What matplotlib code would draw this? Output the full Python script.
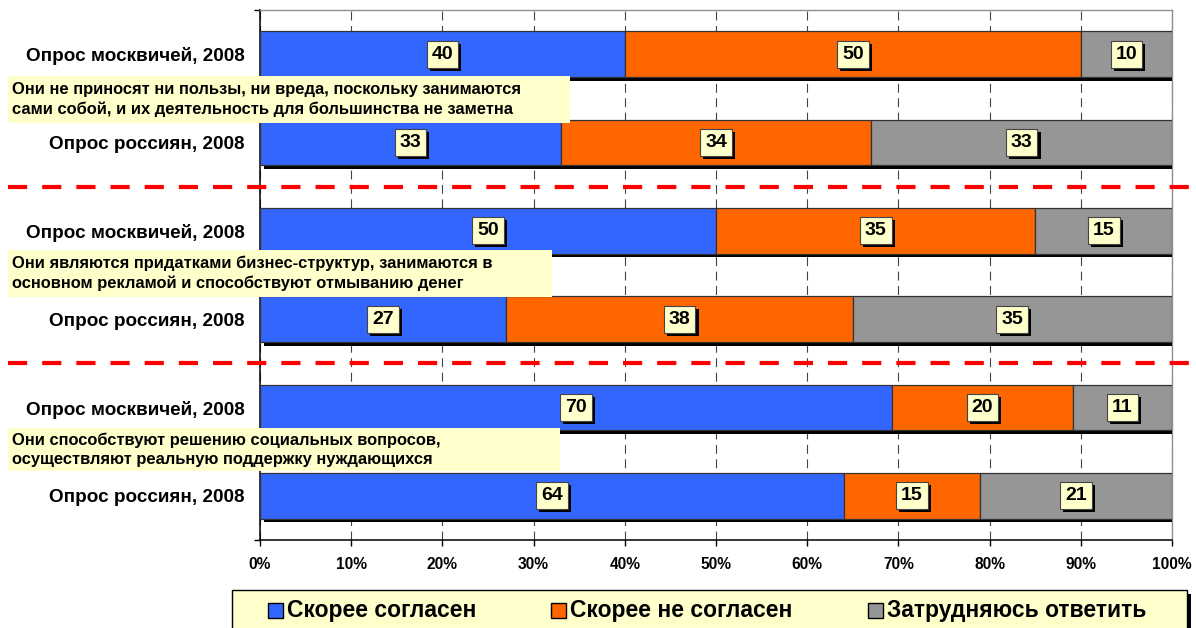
import matplotlib
matplotlib.use('Agg')
import matplotlib.pyplot as plt
import matplotlib.patheffects as pe
from matplotlib.patches import Rectangle
import numpy as np

plt.rcParams['font.family'] = ['Liberation Sans', 'DejaVu Sans']
plt.rcParams['font.weight'] = 'bold'

# ---------------- data ----------------
categories = ['Опрос москвичей, 2008', 'Опрос россиян, 2008',
              'Опрос москвичей, 2008', 'Опрос россиян, 2008',
              'Опрос москвичей, 2008', 'Опрос россиян, 2008']
series_names = ['Скорее согласен', 'Скорее не согласен', 'Затрудняюсь ответить']
agree = [40, 33, 50, 27, 70, 64]
disagree = [50, 34, 35, 38, 20, 15]
unsure = [10, 33, 15, 35, 11, 21]
statements = [
    'Они не приносят ни пользы, ни вреда, поскольку занимаются\nсами собой, и их деятельность для большинства не заметна',
    'Они являются придатками бизнес-структур, занимаются в\nосновном рекламой и способствуют отмыванию денег',
    'Они способствуют решению социальных вопросов,\nосуществляют реальную поддержку нуждающихся',
]
xticks = [0, 10, 20, 30, 40, 50, 60, 70, 80, 90, 100]
xtick_labels = [f'{v}%' for v in xticks]

# ---------------- style ----------------
colors = ['#3366FF', '#FF6600', '#969696']
note_bg = '#FFFFCC'
W, H = 1196, 628

fig = plt.figure(figsize=(W / 100, H / 100), dpi=100)
fig.patch.set_facecolor('white')
ax = fig.add_axes([260 / W, 1 - 540 / H, 912 / W, 530 / H])

vals = np.array([agree, disagree, unsure], dtype=float)
pct = vals / vals.sum(axis=0) * 100
ypos = np.arange(len(categories))
left = np.zeros(len(categories))

bar_shadow = [pe.SimplePatchShadow(offset=(2.6, -2.6), shadow_rgbFace='black', alpha=1.0), pe.Normal()]
lbl_shadow = [pe.SimplePatchShadow(offset=(2.2, -2.2), shadow_rgbFace='black', alpha=1.0), pe.Normal()]

for i in range(3):
    bars = ax.barh(ypos, pct[i], left=left, height=0.52, color=colors[i],
                   edgecolor='#333333', linewidth=0.9, zorder=3)
    for b in bars:
        b.set_path_effects(bar_shadow)
    for j in range(len(ypos)):
        t = ax.text(left[j] + pct[i][j] / 2, ypos[j], str(int(vals[i][j])),
                    ha='center', va='center', fontsize=14, fontweight='bold',
                    color='black', zorder=6,
                    bbox=dict(boxstyle='square,pad=0.26', fc=note_bg, ec='#444444', lw=0.8))
        t.get_bbox_patch().set_path_effects(lbl_shadow)
    left += pct[i]

ax.set_xlim(0, 100)
ax.set_ylim(len(categories) - 0.5, -0.5)
ax.set_xticks(xticks, labels=xtick_labels)
ax.set_yticks(ypos, labels=categories)
ax.set_yticks(np.arange(-0.5, len(categories), 1), minor=True)
ax.tick_params(axis='y', which='major', length=0, pad=11, labelsize=13.6)
ax.tick_params(axis='y', which='minor', length=4, width=1, direction='out', color='black')
ax.tick_params(axis='x', which='major', length=4, width=1, direction='out', pad=8,
               labelsize=11.2, color='black')

ax.xaxis.grid(True, linestyle=(0, (8, 5)), color='#444444', linewidth=0.8)
ax.set_axisbelow(True)

for s in ['left', 'bottom']:
    ax.spines[s].set_color('black')
    ax.spines[s].set_linewidth(1.1)
for s in ['top', 'right']:
    ax.spines[s].set_color('#909090')
    ax.spines[s].set_linewidth(1.0)

# red separators between groups
for yb in [1.5, 3.5]:
    ax.axhline(yb, xmin=(8 - 260) / 912, xmax=(1200 - 260) / 912, color='#FF0000',
               linewidth=3, linestyle=(0, (4.6, 3.6)), clip_on=False, zorder=4)

# statement boxes
boxes = [(8, 76, 570, 123), (8, 250, 552, 297), (8, 428, 560, 471)]
for (x0, y0, x1, y1), s in zip(boxes, statements):
    fig.patches.append(Rectangle((x0 / W, 1 - y1 / H), (x1 - x0) / W, (y1 - y0) / H,
                                 transform=fig.transFigure, fc=note_bg, ec='none', zorder=5))
    fig.text(12 / W, 1 - (y0 + y1) / 2 / H, s, ha='left', va='center',
             fontsize=11.9, fontweight='bold', linespacing=1.36, zorder=6)

# legend
lx0, ly0, lx1, ly1 = 232, 590, 1187, 645
fig.patches.append(Rectangle(((lx0 + 4) / W, 1 - (ly1 + 4) / H), (lx1 - lx0) / W, (ly1 - ly0) / H,
                             transform=fig.transFigure, fc='black', ec='none', zorder=5))
fig.patches.append(Rectangle((lx0 / W, 1 - ly1 / H), (lx1 - lx0) / W, (ly1 - ly0) / H,
                             transform=fig.transFigure, fc=note_bg, ec='black', lw=1, zorder=5))
marker_x = [268, 551, 868]
for mx, name, c in zip(marker_x, series_names, colors):
    fig.patches.append(Rectangle((mx / W, 1 - 618 / H), 15 / W, 15 / H,
                                 transform=fig.transFigure, fc=c, ec='black', lw=1, zorder=6))
    fig.text((mx + 19) / W, 1 - 611 / H, name, ha='left', va='center',
             fontsize=16.5, fontweight='bold', zorder=6)

fig.savefig('out.png', dpi=100)
